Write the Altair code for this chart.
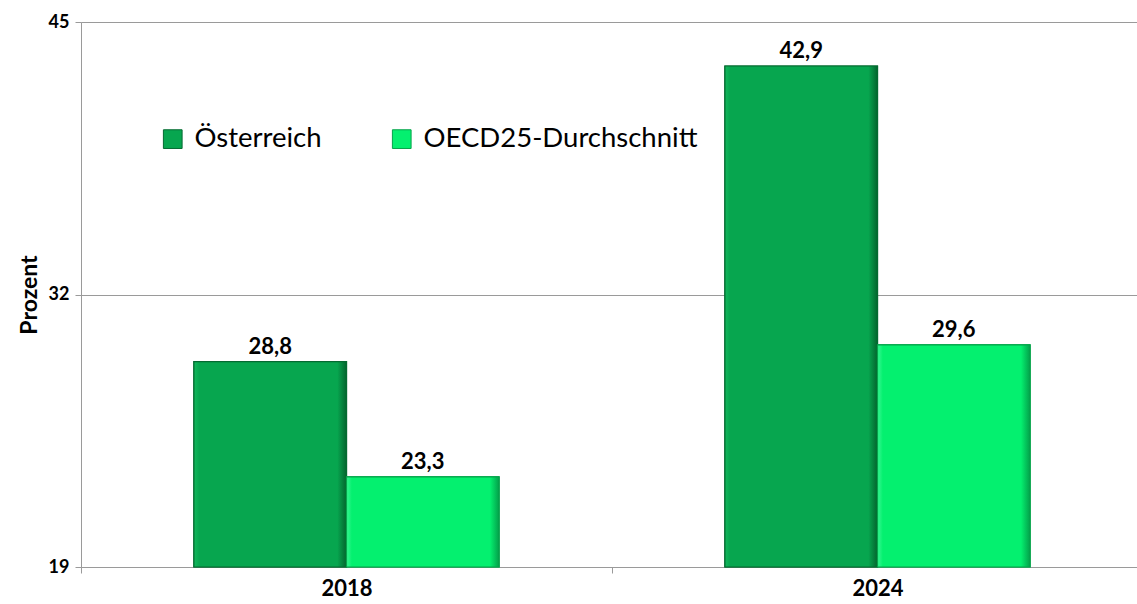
import altair as alt
import pandas as pd

years = ["2018", "2024"]
series = ["Österreich", "OECD25-Durchschnitt"]
oesterreich = [28.8, 42.9]
oecd = [23.3, 29.6]
colors = ["#07A64F", "#04F06F"]
strokes = ["#046A31", "#05A34A"]
edge_light = ["#12B85C", "#3AF793"]
edge_dark = ["#04642E", "#03A04A"]

rows = []
for i, y in enumerate(years):
    rows.append({"Jahr": y, "Reihe": series[0], "Wert": oesterreich[i]})
    rows.append({"Jahr": y, "Reihe": series[1], "Wert": oecd[i]})
df = pd.DataFrame(rows)

FONT = "Lato"

x = alt.X("Jahr:N", sort=years, title=None,
          scale=alt.Scale(paddingInner=0, paddingOuter=0, range=[0, 1062]),
          axis=alt.Axis(labelAngle=0, tickBand="extent", ticks=True))
xo = alt.XOffset("Reihe:N", sort=series,
                 scale=alt.Scale(paddingInner=0, paddingOuter=0.74))
y = alt.Y("Wert:Q", title="Prozent",
          scale=alt.Scale(domain=[19, 45], nice=False, zero=False),
          axis=alt.Axis(values=[19, 32, 45]))

bars = alt.Chart(df).mark_bar(strokeWidth=1.2).encode(
    x=x, xOffset=xo, y=y, y2=alt.datum(19),
    color=alt.Color("Reihe:N", sort=series, title=None,
                    scale=alt.Scale(domain=series, range=colors),
                    legend=alt.Legend(orient="none", legendX=78, legendY=103, direction="horizontal",
                                      symbolType="square", symbolSize=350, symbolStrokeWidth=1,
                                      labelFont=FONT, labelFontSize=27.5, labelColor="black",
                                      columnPadding=66, labelOffset=8, labelLimit=400)),
    stroke=alt.Stroke("Reihe:N", sort=series, scale=alt.Scale(domain=series, range=strokes), legend=None),
)

shaded = []
for k, s in enumerate(series):
    grad = alt.LinearGradient(
        gradient="linear", x1=0, x2=1, y1=0, y2=0,
        stops=[alt.GradientStop(offset=0, color=edge_light[k]),
               alt.GradientStop(offset=0.035, color=colors[k]),
               alt.GradientStop(offset=0.94, color=colors[k]),
               alt.GradientStop(offset=1, color=edge_dark[k])])
    shaded.append(
        alt.Chart(df).transform_filter(alt.datum.Reihe == s).mark_bar(
            color=grad, stroke=strokes[k], strokeWidth=1.2
        ).encode(x=x, xOffset=xo, y=y, y2=alt.datum(19))
    )

labels = alt.Chart(df).transform_calculate(
    txt="replace(format(datum.Wert, '.1f'), '.', ',')"
).mark_text(baseline="bottom", dy=-3, font=FONT, fontSize=22, fontWeight="bold", color="black").encode(
    x=x, xOffset=xo, y=y, text="txt:N"
)

chart = alt.layer(bars, *shaded, labels).properties(
    width=1056, height=545,
    padding={"left": 81, "top": 22, "right": 0, "bottom": 37},
    autosize=alt.AutoSizeParams(type="none"),
).configure_view(stroke=None).configure(background="white").configure_axis(
    labelFont=FONT, labelFontWeight="bold", labelColor="black",
    tickSize=6, tickColor="#9A9A9A", domainColor="#9A9A9A", gridColor="#9A9A9A",
    titleFont=FONT, titleFontWeight="bold", titleColor="black",
).configure_axisX(
    labelFontSize=22, labelPadding=5
).configure_axisY(
    labelFontSize=18, labelPadding=6, titleFontSize=23, titlePadding=7
)

chart.save("out.html", embed_options={"renderer": "svg", "actions": False})
